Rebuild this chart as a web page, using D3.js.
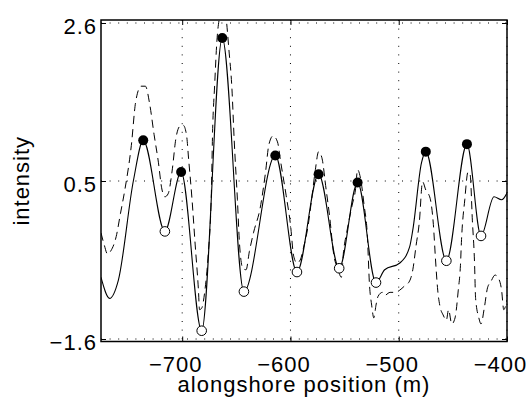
<!DOCTYPE html>
<html lang="en">
<head>
    <meta charset="UTF-8">
    <title>intensity vs alongshore position</title>
    <style>
        body { margin: 0; background: #fff; }
        text { font-family: "Liberation Sans", Arial, Helvetica, sans-serif; }
    </style>
</head>
<body>
<script src='https://d3js.org/d3.v7.min.js' type='text/javascript'></script>
<script>
    // smoothed profile (solid)
    var solidX = [-775, -767, -759, -745, -736, -716, -701, -682, -663, -643, -614, -594, -574, -555,
        -538, -521, -513, -499, -490, -487, -479, -475, -456, -437, -424, -412, -405, -400];
    var solidY = [-0.78, -1.06, -0.82, 0.51, 1.04, -0.17, 0.62, -1.49, 2.40, -0.97, 0.84, -0.71, 0.59, -0.66,
        0.48, -0.85, -0.68, -0.59, -0.38, -0.15, 0.74, 0.89, -0.56, 0.99, -0.23, 0.29, 0.25, 0.34];

    // raw profile (dashed)
    var rawX = [-775, -772, -769, -766, -761, -757, -753, -747, -743, -738, -734, -730, -726, -722, -719,
        -716, -713, -709, -706, -702, -699, -696, -694, -691, -688, -685, -684, -682, -679, -676, -673,
        -672, -670, -668, -665, -663, -660, -659, -657, -654, -652, -649, -647, -644, -641, -638, -634,
        -628, -623, -620, -616, -612, -609, -604, -600, -597, -594, -591, -588, -584, -580, -577, -574,
        -571, -567, -564, -560, -556, -553, -551, -548, -543, -540, -538, -535, -532, -529, -527, -525,
        -523, -521, -519, -515, -513, -508, -503, -499, -495, -490, -487, -484, -481, -478, -475, -471,
        -468, -466, -464, -462, -459, -456, -454, -451, -448, -445, -443, -442, -439, -436, -434, -432,
        -430, -429, -426, -424, -421, -418, -415, -411, -408, -405, -403, -400];
    var rawY = [-0.19, -0.35, -0.47, -0.43, -0.24, 0.07, 0.38, 0.97, 1.55, 1.76, 1.76, 1.52, 1.12, 0.75, 0.41,
        0.29, 0.33, 0.67, 1.05, 1.23, 1.24, 1.11, 0.78, 0.27, -0.35, -0.95, -1.21, -1.19, -0.95, -0.48, 0.38,
        1.11, 1.78, 2.35, 2.71, 2.80, 2.75, 2.61, 2.27, 1.71, 1.05, 0.25, -0.35, -0.66, -0.68, -0.44, -0.18,
        0.14, 0.62, 0.98, 1.10, 1.02, 0.75, 0.31, -0.08, -0.50, -0.59, -0.55, -0.39, -0.12, 0.31, 0.65, 0.89,
        0.81, 0.38, 0.05, -0.48, -0.68, -0.78, -0.44, -0.18, 0.18, 0.38, 0.65, 0.51, 0.18, -0.22, -0.88, -1.15,
        -1.32, -1.15, -1.03, -0.98, -1.02, -0.98, -0.98, -0.95, -0.90, -0.83, -0.68, -0.36, -0.05, 0.49, 0.38, 0.27,
        -0.08, -0.55, -0.95, -1.16, -1.28, -1.35, -1.21, -1.40, -1.32, -0.95, -0.62, -0.28, 0.25, 0.62, 0.58, -0.02,
        -0.58, -1.06, -1.32, -1.40, -1.19, -0.92, -0.84, -0.75, -0.79, -0.95, -1.21, -1.08];

    // local maxima (filled) and minima (open)
    var peakX = [-736, -701, -663, -614, -574, -538, -475, -437];
    var peakY = [1.04, 0.62, 2.40, 0.84, 0.59, 0.48, 0.89, 0.99];
    var troughX = [-716, -682, -643, -594, -555, -521, -456, -424];
    var troughY = [-0.17, -1.49, -0.97, -0.71, -0.66, -0.85, -0.56, -0.23];

    var xTicks = [-700, -600, -500, -400];
    var yTicks = [-1.6, 0.5, 2.6];

    var width = 530, height = 403;
    // plot box (window.top is reserved, so use other names)
    var boxL = 101, boxR = 507, boxT = 20, boxB = 341.5;

    var svg = d3.select('body').append('svg').attr('width', width).attr('height', height);
    svg.append('rect').attr('width', width).attr('height', height).attr('fill', '#fff');

    var x = d3.scaleLinear().domain([-775, -400]).range([boxL, boxR]);
    var y = d3.scaleLinear().domain([-1.6, 2.6]).range([339, 23]);

    var font = '"Liberation Sans", Arial, Helvetica, sans-serif';

    // dotted grid
    svg.append('g').selectAll('line').data(xTicks).join('line')
        .attr('x1', function (d) { return x(d); }).attr('x2', function (d) { return x(d); })
        .attr('y1', boxT).attr('y2', boxB)
        .attr('stroke', '#000').attr('stroke-width', 1).attr('stroke-dasharray', '1,7.6');
    svg.append('g').selectAll('line').data(yTicks).join('line')
        .attr('y1', function (d) { return y(d); }).attr('y2', function (d) { return y(d); })
        .attr('x1', boxL).attr('x2', boxR)
        .attr('stroke', '#000').attr('stroke-width', 1).attr('stroke-dasharray', '1,7.6');

    svg.append('clipPath').attr('id', 'plotclip').append('rect')
        .attr('x', boxL).attr('y', boxT).attr('width', boxR - boxL).attr('height', boxB - boxT);

    var plot = svg.append('g').attr('clip-path', 'url(#plotclip)');

    var line = d3.line()
        .x(function (d) { return x(d[0]); })
        .y(function (d) { return y(d[1]); })
        .curve(d3.curveMonotoneX);

    var rawData = rawX.map(function (v, i) { return [v, rawY[i]]; });
    var solidData = solidX.map(function (v, i) { return [v, solidY[i]]; });

    plot.append('path').datum(rawData).attr('d', line)
        .attr('fill', 'none').attr('stroke', '#000').attr('stroke-width', 1)
        .attr('stroke-dasharray', '8,5');
    plot.append('path').datum(solidData).attr('d', line)
        .attr('fill', 'none').attr('stroke', '#000').attr('stroke-width', 1.1);

    // markers
    svg.append('g').selectAll('circle').data(peakX).join('circle')
        .attr('cx', function (d) { return x(d); })
        .attr('cy', function (d, i) { return y(peakY[i]); })
        .attr('r', 5).attr('fill', '#000');
    svg.append('g').selectAll('circle').data(troughX).join('circle')
        .attr('cx', function (d) { return x(d); })
        .attr('cy', function (d, i) { return y(troughY[i]); })
        .attr('r', 4.8).attr('fill', '#fff').attr('stroke', '#000').attr('stroke-width', 1);

    // axes (ticks point inward)
    var xAxis = svg.append('g').attr('transform', 'translate(0,' + boxB + ')')
        .call(d3.axisBottom(x).tickValues(xTicks).tickSize(-5).tickFormat(d3.format('d')));
    var yAxis = svg.append('g').attr('transform', 'translate(' + boxL + ',0)')
        .call(d3.axisLeft(y).tickValues(yTicks).tickSize(-5).tickFormat(d3.format('.1f')));
    svg.append('g').attr('transform', 'translate(0,' + boxT + ')')
        .call(d3.axisTop(x).tickValues(xTicks).tickSize(-5).tickFormat(''));
    svg.append('g').attr('transform', 'translate(' + boxR + ',0)')
        .call(d3.axisRight(y).tickValues(yTicks).tickSize(-5).tickFormat(''));

    svg.selectAll('.domain').remove();
    svg.selectAll('.tick line').attr('stroke', '#000').attr('stroke-width', 1);

    xAxis.selectAll('text')
        .attr('dy', null).attr('y', 372 - boxB).attr('x', -7)
        .attr('font-size', '22px').attr('font-family', font)
        .attr('letter-spacing', '1px').attr('fill', '#000');
    yAxis.selectAll('text')
        .attr('dy', null).attr('y', 10.5).attr('x', -4)
        .attr('font-size', '22px').attr('font-family', font)
        .attr('letter-spacing', '1px').attr('fill', '#000');

    // frame
    svg.append('rect').attr('x', boxL).attr('y', boxT)
        .attr('width', boxR - boxL).attr('height', boxB - boxT)
        .attr('fill', 'none').attr('stroke', '#000').attr('stroke-width', 1.5);

    // labels
    svg.append('text').attr('x', (boxL + boxR) / 2).attr('y', 392)
        .attr('text-anchor', 'middle').attr('font-size', '22px').attr('letter-spacing', '1px')
        .text('alongshore position (m)');
    svg.append('text').attr('transform', 'translate(29,' + ((boxT + boxB) / 2) + ') rotate(-90)')
        .attr('text-anchor', 'middle').attr('font-size', '22px').attr('letter-spacing', '1px')
        .text('intensity');
</script>
</body>
</html>
